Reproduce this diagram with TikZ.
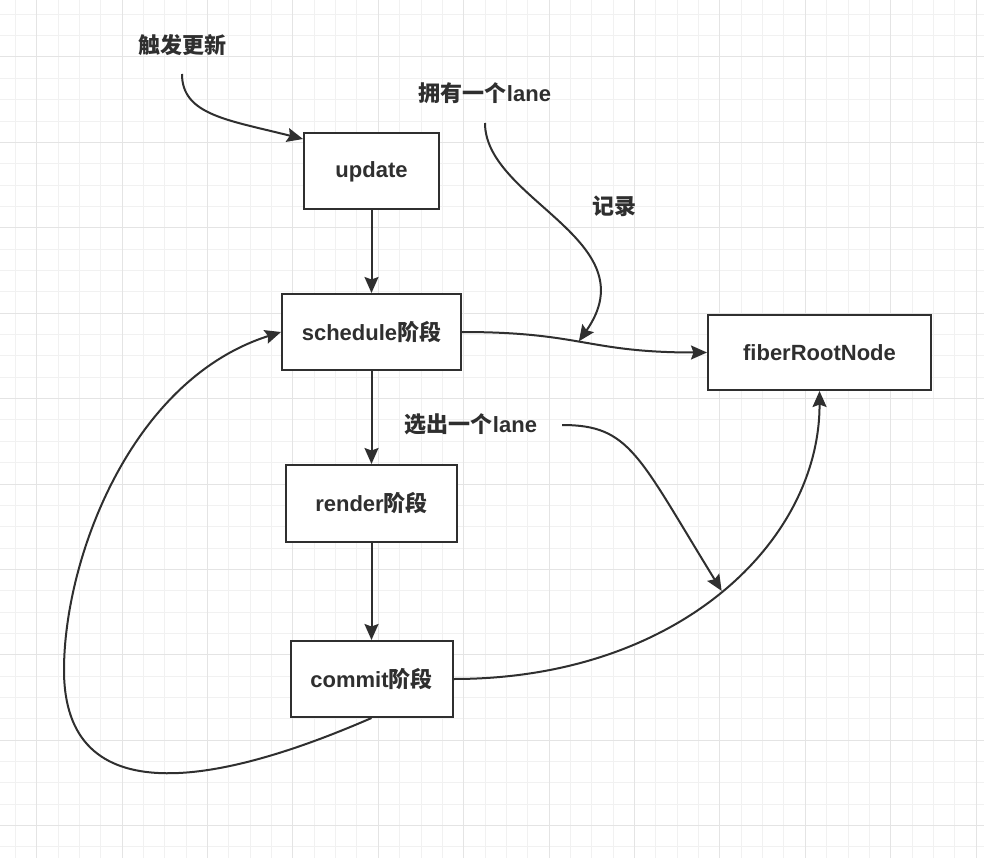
\documentclass[tikz,border=0pt]{standalone}
\usepackage{fontspec}
\setmainfont{Liberation Sans}
\newfontfamily\cjk{Noto Sans CJK SC}
\usetikzlibrary{arrows.meta, positioning}
\definecolor{inkc}{HTML}{2F2F2F}
\definecolor{gridminor}{HTML}{F1F1F1}
\definecolor{gridmajor}{HTML}{E4E4E4}
\newcommand{\zh}[1]{{\cjk #1}}

\begin{document}
\begin{tikzpicture}[x=1pt, y=-1pt,
    stage/.style={draw=inkc, line width=2pt, fill=white,
        minimum height=76pt, text=inkc,
        font=\bfseries\fontsize{22}{26}\selectfont},
    note/.style={text=inkc, inner sep=0pt,
        font=\bfseries\fontsize{22}{26}\selectfont},
    flow/.style={draw=inkc, line width=2pt,
        -{Stealth[length=16pt, width=14pt, inset=2.5pt]}}]

    % page and grid
    \useasboundingbox (0,0) rectangle (984,858);
    \fill[white] (0,0) rectangle (984,858);
    \foreach \i in {0,...,45}
        \draw[gridminor, line width=1pt] ({15.35+21.35*\i},0) -- ++(0,858);
    \foreach \j in {0,...,39}
        \draw[gridminor, line width=1pt] (0,{14.3+21.35*\j}) -- ++(984,0);
    \foreach \i in {1,5,...,45}
        \draw[gridmajor, line width=1pt] ({15.35+21.35*\i},0) -- ++(0,858);
    \foreach \j in {2,6,...,38}
        \draw[gridmajor, line width=1pt] (0,{14.3+21.35*\j}) -- ++(984,0);

    % stages
    \node[stage, minimum width=135pt] (update) at (371.5,171.5) {update};
    \node[stage, minimum width=179pt] (schedule) at (371.5,332) {schedule\zh{阶段}};
    \node[stage, minimum width=223pt, minimum height=75pt] (fiberroot) at (819.5,352.5) {fiberRootNode};
    \node[stage, minimum width=171pt, minimum height=77pt] (render) at (371.5,503.5) {render\zh{阶段}};
    \node[stage, minimum width=162pt] (commit) at (371.5,679) {commit\zh{阶段}};

    % free labels
    \node[note] (trigger) at (182,45) {\zh{触发更新}};
    \node[note] (ownlane) at (485,93) {\zh{拥有一个}lane};
    \node[note] (record) at (614,206) {\zh{记录}};
    \node[note] (picklane) at (471,424.5) {\zh{选出一个}lane};

    \coordinate (trigger end) at (182,74);
    \coordinate (update in) at (303,139);
    \coordinate (ownlane end) at (485,123);
    \coordinate (picklane end) at (562,425);

    % connectors
    \draw[flow] (trigger end) .. controls (182,115) and (228,120) .. (update in);
    \draw[flow] (update.south) -- (schedule.north);
    \draw[flow] (schedule.south) -- (render.north);
    \draw[flow] (render.south) -- (commit.north);
    \draw[flow] (schedule.east) .. controls +(120,0) and +(-120,0) ..
        coordinate[pos=0.47] (record mark) (fiberroot.west);
    \draw[flow] (ownlane end) .. controls (485,200) and (650,240) .. (record mark);
    \draw[flow] (commit.east) .. controls (680,679) and (820,540) ..
        coordinate[pos=0.5] (pick mark) (fiberroot.south);
    \draw[flow] (picklane end) .. controls (630,425) and (638,455) .. (pick mark);
    \draw[flow] (commit.south) .. controls (220,784) and (64,815) .. (64,670)
        .. controls (64,560) and (130,380) .. (schedule.west);

\end{tikzpicture}
\end{document}
